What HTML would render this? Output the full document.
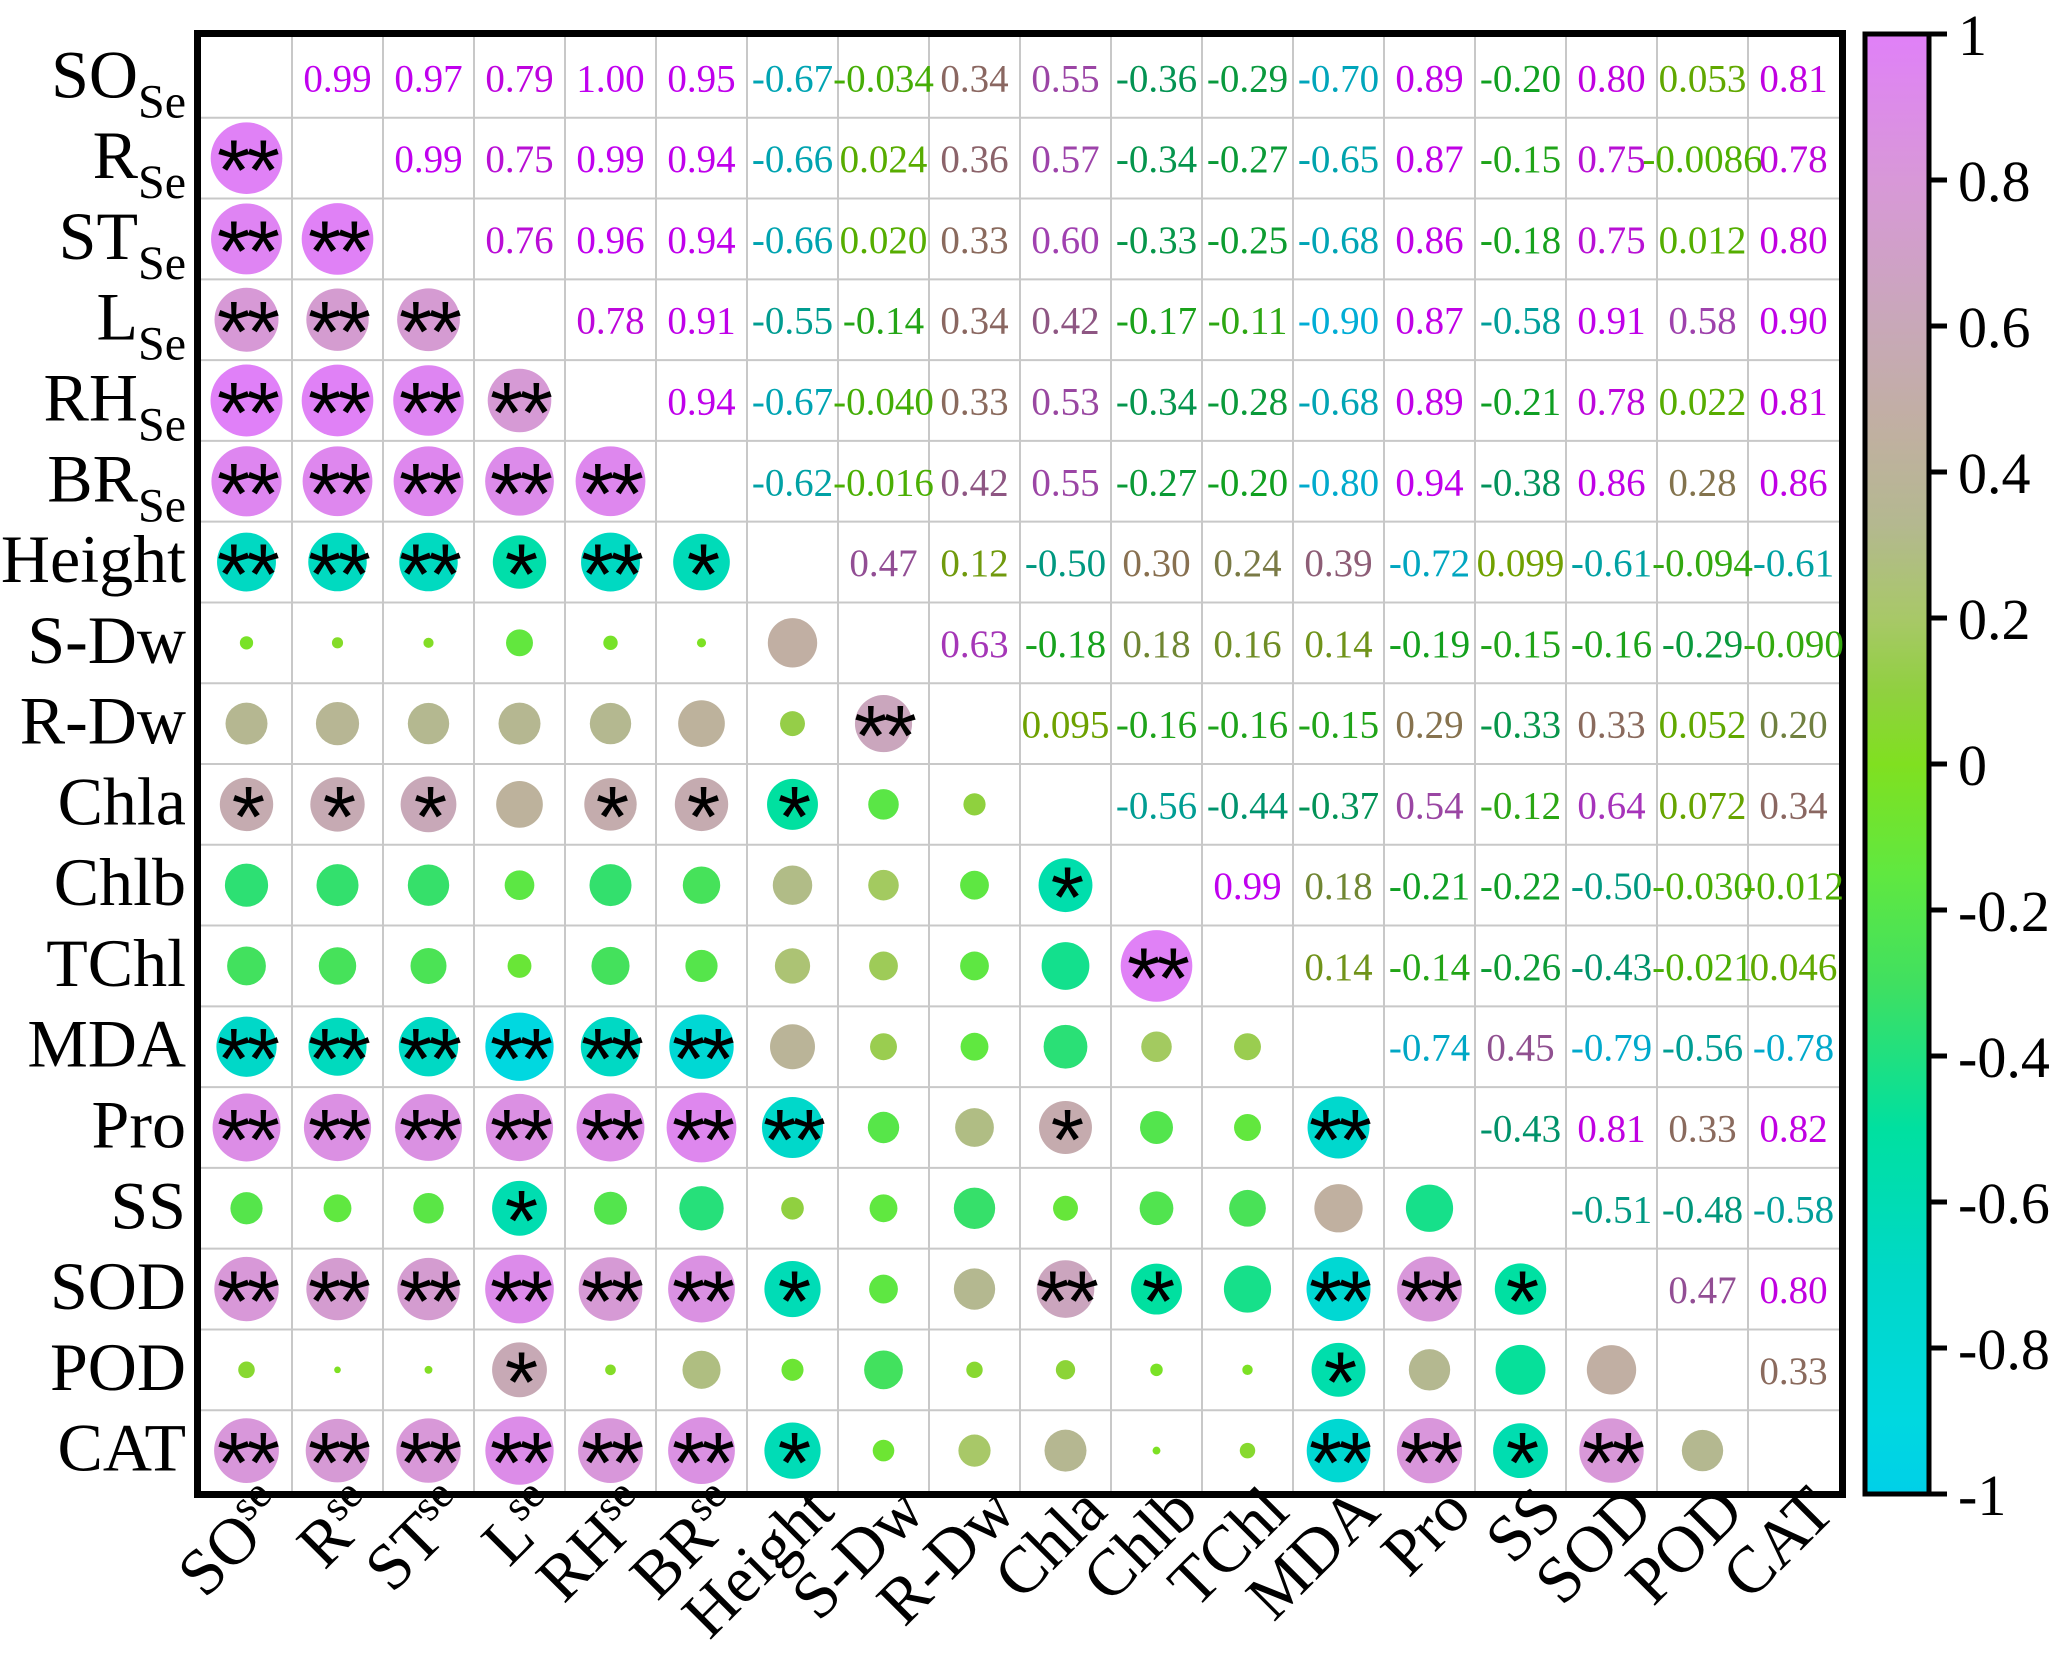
<!DOCTYPE html>
<html><head><meta charset="utf-8"><style>
html,body{margin:0;padding:0;background:#fff;}
svg{display:block;font-family:"Liberation Serif",serif;}
</style></head><body>
<svg id="chart" width="2070" height="1667" viewBox="0 0 2070 1667" xmlns="http://www.w3.org/2000/svg">
<defs>
<linearGradient id="cbgrad" x1="0" y1="1" x2="0" y2="0"></linearGradient>
</defs>
<g id="grid"></g>
<g id="cells"></g>
<g id="rowlabels"></g>
<g id="collabels"></g>
<g id="colorbar"></g>
</svg>
<script>
const labels = ["SO","R","ST","L","RH","BR","Height","S-Dw","R-Dw","Chla","Chlb","TChl","MDA","Pro","SS","SOD","POD","CAT"];
const subs = ["Se","Se","Se","Se","Se","Se","","","","","","","","","","","",""];
const upper = [
[0.99,0.97,0.79,1.00,0.95,-0.67,-0.034,0.34,0.55,-0.36,-0.29,-0.70,0.89,-0.20,0.80,0.053,0.81],
[0.99,0.75,0.99,0.94,-0.66,0.024,0.36,0.57,-0.34,-0.27,-0.65,0.87,-0.15,0.75,-0.0086,0.78],
[0.76,0.96,0.94,-0.66,0.020,0.33,0.60,-0.33,-0.25,-0.68,0.86,-0.18,0.75,0.012,0.80],
[0.78,0.91,-0.55,-0.14,0.34,0.42,-0.17,-0.11,-0.90,0.87,-0.58,0.91,0.58,0.90],
[0.94,-0.67,-0.040,0.33,0.53,-0.34,-0.28,-0.68,0.89,-0.21,0.78,0.022,0.81],
[-0.62,-0.016,0.42,0.55,-0.27,-0.20,-0.80,0.94,-0.38,0.86,0.28,0.86],
[0.47,0.12,-0.50,0.30,0.24,0.39,-0.72,0.099,-0.61,-0.094,-0.61],
[0.63,-0.18,0.18,0.16,0.14,-0.19,-0.15,-0.16,-0.29,-0.090],
[0.095,-0.16,-0.16,-0.15,0.29,-0.33,0.33,0.052,0.20],
[-0.56,-0.44,-0.37,0.54,-0.12,0.64,0.072,0.34],
[0.99,0.18,-0.21,-0.22,-0.50,-0.030,-0.012],
[0.14,-0.14,-0.26,-0.43,-0.021,0.046],
[-0.74,0.45,-0.79,-0.56,-0.78],
[-0.43,0.81,0.33,0.82],
[-0.51,-0.48,-0.58],
[0.47,0.80],
[0.33]
];
const upperText = [
["0.99","0.97","0.79","1.00","0.95","-0.67","-0.034","0.34","0.55","-0.36","-0.29","-0.70","0.89","-0.20","0.80","0.053","0.81"],
["0.99","0.75","0.99","0.94","-0.66","0.024","0.36","0.57","-0.34","-0.27","-0.65","0.87","-0.15","0.75","-0.0086","0.78"],
["0.76","0.96","0.94","-0.66","0.020","0.33","0.60","-0.33","-0.25","-0.68","0.86","-0.18","0.75","0.012","0.80"],
["0.78","0.91","-0.55","-0.14","0.34","0.42","-0.17","-0.11","-0.90","0.87","-0.58","0.91","0.58","0.90"],
["0.94","-0.67","-0.040","0.33","0.53","-0.34","-0.28","-0.68","0.89","-0.21","0.78","0.022","0.81"],
["-0.62","-0.016","0.42","0.55","-0.27","-0.20","-0.80","0.94","-0.38","0.86","0.28","0.86"],
["0.47","0.12","-0.50","0.30","0.24","0.39","-0.72","0.099","-0.61","-0.094","-0.61"],
["0.63","-0.18","0.18","0.16","0.14","-0.19","-0.15","-0.16","-0.29","-0.090"],
["0.095","-0.16","-0.16","-0.15","0.29","-0.33","0.33","0.052","0.20"],
["-0.56","-0.44","-0.37","0.54","-0.12","0.64","0.072","0.34"],
["0.99","0.18","-0.21","-0.22","-0.50","-0.030","-0.012"],
["0.14","-0.14","-0.26","-0.43","-0.021","0.046"],
["-0.74","0.45","-0.79","-0.56","-0.78"],
["-0.43","0.81","0.33","0.82"],
["-0.51","-0.48","-0.58"],
["0.47","0.80"],
["0.33"]
];
const stars = [
[],
["**"],
["**","**"],
["**","**","**"],
["**","**","**","**"],
["**","**","**","**","**"],
["**","**","**","*","**","*"],
["","","","","","",""],
["","","","","","","","**"],
["*","*","*","","*","*","*","",""],
["","","","","","","","","","*"],
["","","","","","","","","","","**"],
["**","**","**","**","**","**","","","","","",""],
["**","**","**","**","**","**","**","","","*","","","**"],
["","","","*","","","","","","","","","",""],
["**","**","**","**","**","**","*","","","**","*","","**","**","*"],
["","","","*","","","","","","","","","*","","",""],
["**","**","**","**","**","**","*","","","","","","**","**","*","**",""]
];
const cbTicks = [1,0.8,0.6,0.4,0.2,0,-0.2,-0.4,-0.6,-0.8,-1];
const cbTickText = ["1","0.8","0.6","0.4","0.2","0","-0.2","-0.4","-0.6","-0.8","-1"];

const NS="http://www.w3.org/2000/svg";
const N=labels.length, X0=201, Y0=37, CW=91, CH=(1491-37)/N, RMAX=36;
function xc(j){return X0+CW*(j+0.5);}
function yc(i){return Y0+CH*(i+0.5);}
function mk(tag,attrs,parent){const e=document.createElementNS(NS,tag);for(const k in attrs)e.setAttribute(k,attrs[k]);parent.appendChild(e);return e;}
function hex(h){return [parseInt(h.slice(1,3),16),parseInt(h.slice(3,5),16),parseInt(h.slice(5,7),16)];}
function interp(stops,v){
  if(v>=stops[0][0])return stops[0][1];
  for(let k=0;k<stops.length-1;k++){const a=stops[k],b=stops[k+1];
    if(v<=a[0]&&v>=b[0]){const t=(a[0]-v)/(a[0]-b[0]);const c1=hex(a[1]),c2=hex(b[1]);
      return "rgb("+c1.map((c,i)=>Math.round(c+(c2[i]-c)*t)).join(",")+")";}}
  return stops[stops.length-1][1];
}
const fillStops=[[1,"#e080f8"],[0.8,"#d898d8"],[0.6,"#c8a8b8"],[0.45,"#c0b0a0"],[0.33,"#b4b890"],[0.2,"#a8c868"],[0.1,"#90d040"],[0,"#80e020"],[-0.15,"#60e840"],[-0.3,"#40e060"],[-0.5,"#00e0a0"],[-0.7,"#00d8c8"],[-0.9,"#00d8e0"],[-1,"#00d0e8"]];
const textStops=[[1,"#c000f0"],[0.8,"#c000e0"],[0.6,"#a040b0"],[0.45,"#905090"],[0.3,"#887050"],[0.2,"#708040"],[0.1,"#70a000"],[0,"#50b000"],[-0.2,"#10a020"],[-0.4,"#009060"],[-0.6,"#00a0a0"],[-0.75,"#00a8c8"],[-1,"#00b0e0"]];

const grid=document.getElementById('grid');
for(let k=1;k<N;k++){
  const vl=mk('line',{x1:X0+CW*k,y1:Y0,x2:X0+CW*k,y2:Y0+CH*N,stroke:"#c8c8c8","stroke-width":2},grid);
  
  
  const hl=mk('line',{x1:X0,y1:Y0+CH*k,x2:X0+CW*N,y2:Y0+CH*k,stroke:"#c8c8c8","stroke-width":2},grid);
  
  
}
const frame=mk('rect',{x:X0-3.5,y:Y0-3.5,width:CW*N+7,height:CH*N+7,fill:"none",stroke:"#000","stroke-width":7},grid);



const cells=document.getElementById('cells');
for(let i=0;i<N;i++){
  for(let j=i+1;j<N;j++){
    const v=upper[i][j-i-1];
    const t=mk('text',{x:xc(j),y:yc(i)+14,"text-anchor":"middle","font-size":39,fill:interp(textStops,v)},cells);
    t.textContent=upperText[i][j-i-1];
    
    
  }
  for(let j=0;j<i;j++){
    const v=upper[j][i-j-1];
    const r=RMAX*Math.sqrt(Math.abs(v));
    const c=mk('circle',{cx:xc(j),cy:yc(i),r:r,fill:interp(fillStops,v)},cells);
    
    
    const s=stars[i][j];
    if(s){
      const st=mk('text',{x:xc(j),y:yc(i)+42,"text-anchor":"middle","font-size":86,"font-family":"Liberation Sans, sans-serif",fill:"#000","letter-spacing":-4},cells);
      st.textContent=s;
      
      
    }
  }
}

const rl=document.getElementById('rowlabels');
const cl=document.getElementById('collabels');
for(let i=0;i<N;i++){
  const t=mk('text',{x:186,y:yc(i)+20,"text-anchor":"end","font-size":68},rl);
  
  
  const a=mk('tspan',{},t);a.textContent=labels[i];
  if(subs[i]){const b=mk('tspan',{"font-size":48,dy:20},t);b.textContent=subs[i];}
  const g=mk('text',{transform:"translate("+(xc(i)+44)+",1514) rotate(-45)","text-anchor":"end","font-size":66},cl);
  
  
  const a2=mk('tspan',{},g);a2.textContent=labels[i];
  if(subs[i]){const b2=mk('tspan',{"font-size":44,dy:-24},g);b2.textContent=subs[i].toLowerCase();}
}

// colorbar
const CBX=1865, CBW=64, CBT=34, CBB=1494;
function ycb(v){return CBB-(v+1)/2*(CBB-CBT);}
const grad=document.getElementById('cbgrad');
for(const s of fillStops.slice().reverse()){mk('stop',{offset:((s[0]+1)/2),"stop-color":s[1]},grad);}
const cb=document.getElementById('colorbar');
const cbr=mk('rect',{x:CBX,y:CBT,width:CBW,height:CBB-CBT,fill:"url(#cbgrad)",stroke:"#000","stroke-width":5},cb);


cbTicks.forEach((v,k)=>{
  const tk=mk('line',{x1:CBX+CBW,y1:ycb(v),x2:CBX+CBW+18,y2:ycb(v),stroke:"#000","stroke-width":5},cb);
  
  
  const tl=mk('text',{x:1958,y:ycb(v)+21,"font-size":58},cb);
  tl.textContent=cbTickText[k];
  
  
});
</script>
</body></html>
